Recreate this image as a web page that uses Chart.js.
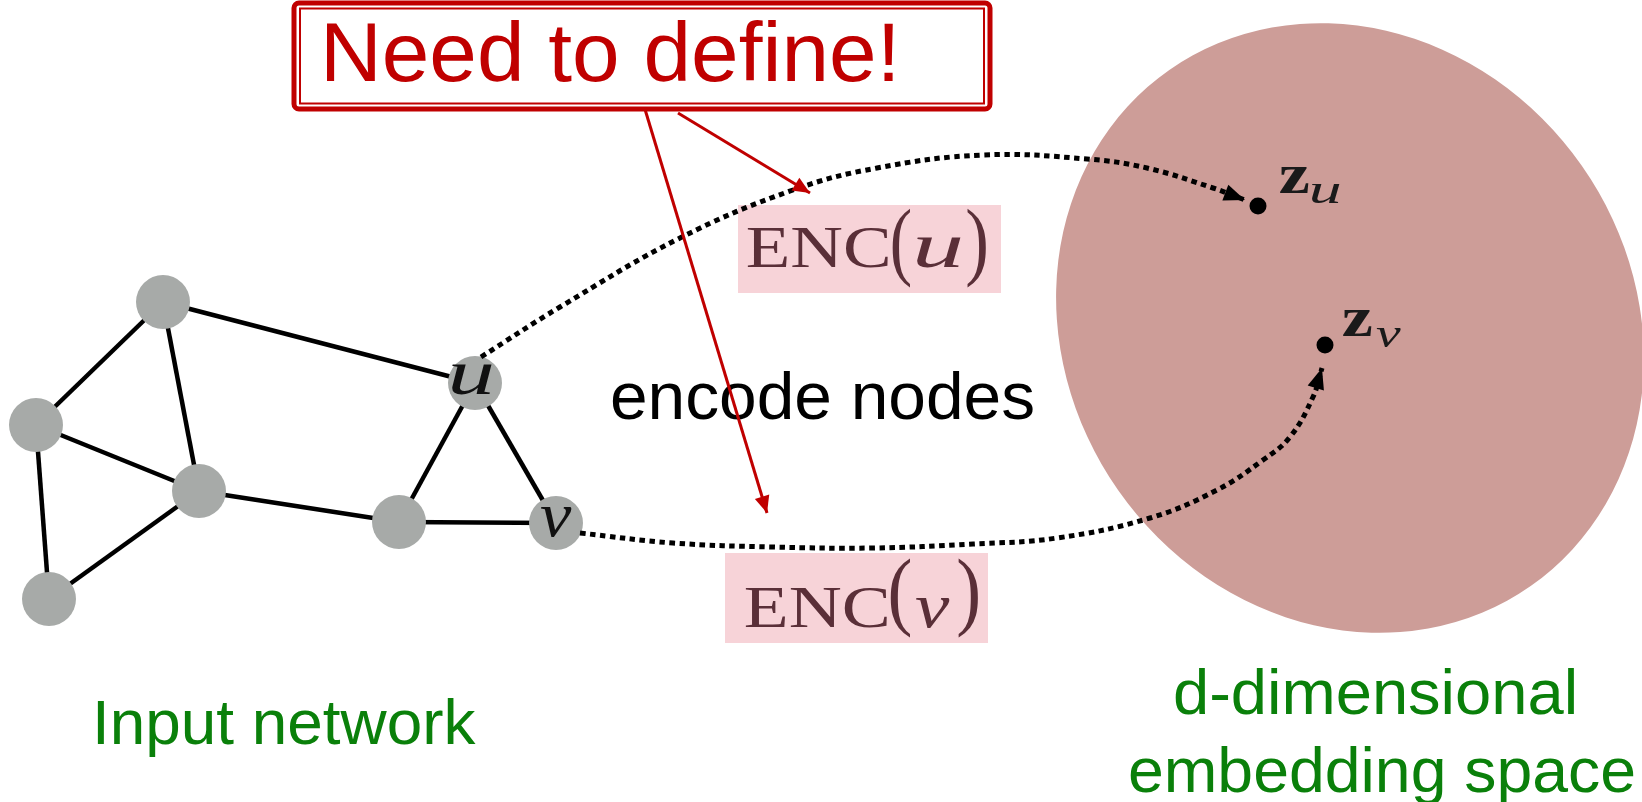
<!DOCTYPE html>
<html>
<head>
<meta charset="utf-8">
<script src="https://cdn.jsdelivr.net/npm/chart.js@4.4.0/dist/chart.umd.min.js"></script>
<style>
  html, body { margin: 0; padding: 0; background: #fff; }
  #wrap { width: 1642px; height: 802px; }
</style>
</head>
<body>
<div id="wrap"><canvas id="graphChart" width="1642" height="802"></canvas></div>
<script>
// input network (diagram units, y grows downward)
const nodeNames = ['a', 'b', 'c', 'd', 'e', 'u', 'v']
const nodeX = [163, 36, 199, 49, 399, 475, 556]
const nodeY = [302, 425, 491, 599, 522, 383, 523]
const edges = [['a', 'b'], ['a', 'c'], ['a', 'u'], ['b', 'c'], ['b', 'd'], ['c', 'd'], ['c', 'e'], ['e', 'u'], ['e', 'v'], ['u', 'v']]

// dotted encoder paths u -> z_u and v -> z_v
const pathUX = [481, 560, 680, 793, 877, 983, 1087, 1147, 1213, 1245]
const pathUY = [357, 307, 238, 190, 168, 155, 159, 168, 188, 200]
const pathVX = [580, 673, 773, 873, 973, 1057, 1150, 1217, 1263, 1290, 1313, 1322]
const pathVY = [533, 543, 547, 548, 544, 538, 518, 490, 460, 437, 397, 368]

// embeddings
const embedNames = ['z_u', 'z_v']
const embedX = [1258, 1325]
const embedY = [206, 345]

// "Need to define!" pointers
const pointerFromX = [644, 678]
const pointerFromY = [106, 113]
const pointerToX = [767, 810]
const pointerToY = [513, 193]

// embedding space blob (tilted ellipse)
const spaceCenter = [1350, 328]
const spaceRadii = [315, 283]
const spaceTilt = 55

const red = '#C00000'
const encInk = '#5A2F38'
const green = '#0A800A'

const zip = (xs, ys) => xs.map((x, i) => ({ x: x, y: ys[i] }))
const node = (name) => ({ x: nodeX[nodeNames.indexOf(name)], y: nodeY[nodeNames.indexOf(name)] })

// text pieces, ink box in diagram units
const captions = [
    { text: 'encode nodes', x: [612, 1033], base: 419, font: '66px "Liberation Sans"', color: '#000', layer: 'under' },
    { text: 'ENC', x: [747, 888], base: 267, font: '60px "Liberation Serif"', color: encInk, layer: 'under' },
    { text: '(', x: [892, 910], y: [207, 288], font: '86px "Liberation Serif"', color: encInk, layer: 'under' },
    { text: 'u', x: [917, 961], base: 267, font: 'italic 64px "Liberation Serif"', color: encInk, layer: 'under' },
    { text: ')', x: [967, 986], y: [207, 288], font: '86px "Liberation Serif"', color: encInk, layer: 'under' },
    { text: 'ENC', x: [745, 887], base: 627, font: '60px "Liberation Serif"', color: encInk, layer: 'under' },
    { text: '(', x: [890, 910], y: [558, 638], font: '86px "Liberation Serif"', color: encInk, layer: 'under' },
    { text: 'v', x: [915, 950], base: 627, font: 'italic 64px "Liberation Serif"', color: encInk, layer: 'under' },
    { text: ')', x: [958, 978], y: [558, 638], font: '86px "Liberation Serif"', color: encInk, layer: 'under' },
    { text: 'Input network', x: [97, 476], base: 744, font: '63px "Liberation Sans"', color: green, layer: 'over' },
    { text: 'd-dimensional', x: [1175, 1574], base: 714, font: '63px "Liberation Sans"', color: green, layer: 'over' },
    { text: 'embedding space', x: [1130, 1634], base: 792, font: '63px "Liberation Sans"', color: green, layer: 'over' },
    { text: 'u', x: [452, 492], base: 394, font: 'italic 64px "Liberation Serif"', color: '#111', layer: 'over' },
    { text: 'v', x: [540, 572], base: 536, font: 'italic 64px "Liberation Serif"', color: '#111', layer: 'over' },
    { text: 'z', x: [1280, 1309], base: 193, font: 'bold 58px "Liberation Serif"', color: '#1a1a1a', layer: 'over' },
    { text: 'u', x: [1312, 1340], base: 203, font: 'italic 40px "Liberation Serif"', color: '#1a1a1a', layer: 'over' },
    { text: 'z', x: [1343, 1372], base: 336, font: 'bold 58px "Liberation Serif"', color: '#1a1a1a', layer: 'over' },
    { text: 'v', x: [1376, 1401], base: 347, font: 'italic 40px "Liberation Serif"', color: '#1a1a1a', layer: 'over' },
    { text: 'Need to define!', x: [326, 893], base: 81, font: '84px "Liberation Sans"', color: red, layer: 'top' }
]

const encBoxes = [[738, 205, 1001, 293], [725, 553, 988, 643]]

function drawCaption(chart, c) {
    const ctx = chart.ctx
    const sx = chart.scales.x, sy = chart.scales.y
    ctx.save()
    ctx.font = c.font
    ctx.fillStyle = c.color
    ctx.textAlign = 'left'
    ctx.textBaseline = 'alphabetic'
    const m = ctx.measureText(c.text)
    const inkL = -m.actualBoundingBoxLeft
    const inkW = m.actualBoundingBoxRight + m.actualBoundingBoxLeft
    const x1 = sx.getPixelForValue(c.x[0]), x2 = sx.getPixelForValue(c.x[1])
    const kx = (x2 - x1) / inkW
    let ky = 1, base
    if (c.y) {
        const y1 = sy.getPixelForValue(c.y[0]), y2 = sy.getPixelForValue(c.y[1])
        const inkH = m.actualBoundingBoxAscent + m.actualBoundingBoxDescent
        ky = (y2 - y1) / inkH
        base = y1 + m.actualBoundingBoxAscent * ky
    } else {
        base = sy.getPixelForValue(c.base)
    }
    ctx.translate(x1 - inkL * kx, base)
    ctx.scale(kx, ky)
    ctx.fillText(c.text, 0, 0)
    ctx.restore()
}

const diagramPlugin = {
    id: 'diagram',
    beforeDatasetsDraw(chart) {
        const ctx = chart.ctx
        const sx = chart.scales.x, sy = chart.scales.y
        // embedding space
        const cx = sx.getPixelForValue(spaceCenter[0]), cy = sy.getPixelForValue(spaceCenter[1])
        const rx = sx.getPixelForValue(spaceCenter[0] + spaceRadii[0]) - cx
        const ry = sy.getPixelForValue(spaceCenter[1] + spaceRadii[1]) - cy
        ctx.save()
        ctx.fillStyle = '#CD9D98'
        ctx.beginPath()
        ctx.ellipse(cx, cy, Math.abs(rx), Math.abs(ry), spaceTilt * Math.PI / 180, 0, Math.PI * 2)
        ctx.fill()
        // ENC highlight boxes
        ctx.fillStyle = '#F7D3D8'
        encBoxes.forEach((b) => {
            const x1 = sx.getPixelForValue(b[0]), y1 = sy.getPixelForValue(b[1])
            const x2 = sx.getPixelForValue(b[2]), y2 = sy.getPixelForValue(b[3])
            ctx.fillRect(x1, y1, x2 - x1, y2 - y1)
        })
        ctx.restore()
        captions.filter((c) => c.layer === 'under').forEach((c) => drawCaption(chart, c))
    },
    afterDatasetsDraw(chart) {
        const ctx = chart.ctx
        const sx = chart.scales.x, sy = chart.scales.y
        // arrow heads
        chart.data.datasets.forEach((ds, i) => {
            if (!ds.arrow) return
            const pts = chart.getDatasetMeta(i).data
            const last = pts[pts.length - 1], prev = pts[pts.length - 2]
            const a = Math.atan2(last.y - prev.y, last.x - prev.x)
            ctx.save()
            ctx.translate(last.x, last.y)
            ctx.rotate(a)
            ctx.fillStyle = ds.borderColor
            ctx.beginPath()
            ctx.moveTo(0, 0)
            ctx.lineTo(-ds.arrow[0], -ds.arrow[1])
            ctx.lineTo(-ds.arrow[0], ds.arrow[1])
            ctx.closePath()
            ctx.fill()
            ctx.restore()
        })
        captions.filter((c) => c.layer === 'over').forEach((c) => drawCaption(chart, c))
        // "Need to define!" frame
        const bx1 = sx.getPixelForValue(294), by1 = sy.getPixelForValue(3)
        const bx2 = sx.getPixelForValue(990), by2 = sy.getPixelForValue(109)
        ctx.save()
        ctx.fillStyle = '#fff'
        ctx.strokeStyle = red
        ctx.lineWidth = 5
        ctx.beginPath()
        ctx.roundRect(bx1, by1, bx2 - bx1, by2 - by1, 5)
        ctx.fill()
        ctx.stroke()
        ctx.lineWidth = 2
        const ix1 = sx.getPixelForValue(300), iy1 = sy.getPixelForValue(8.5)
        const ix2 = sx.getPixelForValue(984), iy2 = sy.getPixelForValue(103.5)
        ctx.strokeRect(ix1, iy1, ix2 - ix1, iy2 - iy1)
        ctx.restore()
        captions.filter((c) => c.layer === 'top').forEach((c) => drawCaption(chart, c))
    }
}

const edgeSets = edges.map(([a, b]) => ({
    type: 'line',
    data: [node(a), node(b)],
    borderColor: '#000',
    borderWidth: 4.5,
    pointRadius: 0,
    order: 50
}))

const datasets = edgeSets.concat([
    {
        type: 'scatter',
        data: zip(nodeX, nodeY),
        backgroundColor: '#A7AAA8',
        borderWidth: 0,
        pointRadius: 27,
        order: 40
    },
    {
        type: 'line',
        data: zip(pathUX, pathUY),
        borderColor: '#000',
        borderWidth: 5,
        borderDash: [5.5, 4.5],
        borderCapStyle: 'butt',
        tension: 0.4,
        pointRadius: 0,
        arrow: [21, 8.5],
        order: 30
    },
    {
        type: 'line',
        data: zip(pathVX, pathVY),
        borderColor: '#000',
        borderWidth: 5,
        borderDash: [5.5, 4.5],
        borderCapStyle: 'butt',
        tension: 0.4,
        pointRadius: 0,
        arrow: [21, 8.5],
        order: 30
    },
    {
        type: 'scatter',
        data: zip(embedX, embedY),
        backgroundColor: '#000',
        borderWidth: 0,
        pointRadius: 8.5,
        order: 20
    }
]).concat(pointerFromX.map((x, i) => ({
    type: 'line',
    data: [{ x: x, y: pointerFromY[i] }, { x: pointerToX[i], y: pointerToY[i] }],
    borderColor: red,
    borderWidth: 3,
    pointRadius: 0,
    arrow: [17, 7.5],
    order: 10
})))

new Chart(document.getElementById('graphChart'), {
    type: 'scatter',
    data: { datasets: datasets },
    options: {
        responsive: false,
        animation: false,
        events: [],
        layout: { padding: 0, autoPadding: false },
        scales: {
            x: { type: 'linear', min: 0, max: 1642, display: false },
            y: { type: 'linear', min: 0, max: 802, reverse: true, display: false }
        },
        plugins: {
            legend: { display: false },
            tooltip: { enabled: false }
        }
    },
    plugins: [diagramPlugin]
})
</script>
</body>
</html>
